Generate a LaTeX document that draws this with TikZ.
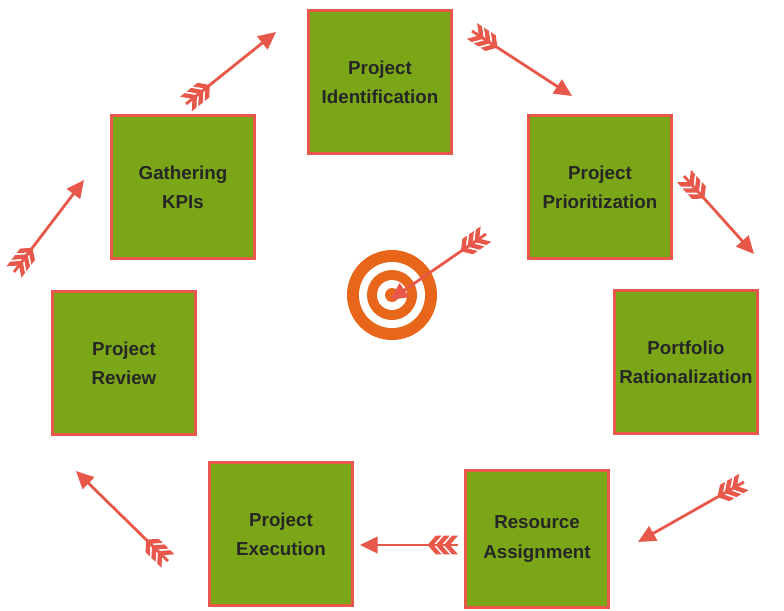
\documentclass[tikz,border=0pt]{standalone}
\usepackage{fontspec}
\setmainfont{Liberation Sans}
\usetikzlibrary{arrows.meta,decorations.markings}
\definecolor{boxgreen}{HTML}{7BA617}
\definecolor{coral}{HTML}{E8584A}
\definecolor{targetorange}{HTML}{E8661A}
\tikzset{Step Box/.style={draw=coral, line width=2.2pt, fill=boxgreen, minimum size=4.3cm, align=center, font=\bfseries\fontsize{16}{25}\selectfont, text=black!85},
	Chevron/.style={decoration={markings, mark=at position #1 with {\fill[coral] (-8pt,8pt) -- (-3pt,8pt) -- (4pt,0) -- (-3pt,-8pt) -- (-8pt,-8pt) -- (-1pt,0) -- cycle;}}},
	Fletched Arrow/.style={coral, line width=2.4pt, -{Triangle[length=15pt,width=14pt]},
		postaction={decorate, Chevron=8pt},
		postaction={decorate, Chevron=15pt},
		postaction={decorate, Chevron=22pt}}}

\begin{document}
\begin{tikzpicture}[x=0.03cm, y=-0.03cm]
		\useasboundingbox (0,0) rectangle (784,610);
		% steps of the cycle
		\node [Step Box] (ident) at (380,82) {Project\\Identification};
		\node [Step Box] (prior) at (600,187) {Project\\Prioritization};
		\node [Step Box] (port) at (686,362) {Portfolio\\Rationalization};
		\node [Step Box, minimum height=4.1cm] (res) at (537,539) {Resource\\Assignment};
		\node [Step Box] (exec) at (281,534) {Project\\Execution};
		\node [Step Box] (review) at (124,363) {Project\\Review};
		\node [Step Box] (kpi) at (183,187) {Gathering\\KPIs};
		
		% target
		\coordinate (bull) at (392,295);
		\fill [targetorange] (bull) circle (45);
		\fill [white] (bull) circle (33);
		\fill [targetorange] (bull) circle (25);
		\fill [white] (bull) circle (15);
		\fill [targetorange] (bull) circle (7);
		
		% arrows
		\coordinate (t1) at (186,104); \coordinate (h1) at (276,32);
		\coordinate (t2) at (472,31); \coordinate (h2) at (572,96);
		\coordinate (t3) at (684,176); \coordinate (h3) at (754,254);
		\coordinate (t4) at (744,482); \coordinate (h4) at (638,542);
		\coordinate (t5) at (458,545); \coordinate (h5) at (360,545);
		\coordinate (t6) at (168,561); \coordinate (h6) at (76,471);
		\coordinate (t7) at (14,272); \coordinate (h7) at (84,180);
		\coordinate (t8) at (486,234); \coordinate (h8) at (390,300);
		\foreach \i in {1,...,8}{%
			\draw [Fletched Arrow] (t\i) -- (h\i);
		}
	\end{tikzpicture}
\end{document}
